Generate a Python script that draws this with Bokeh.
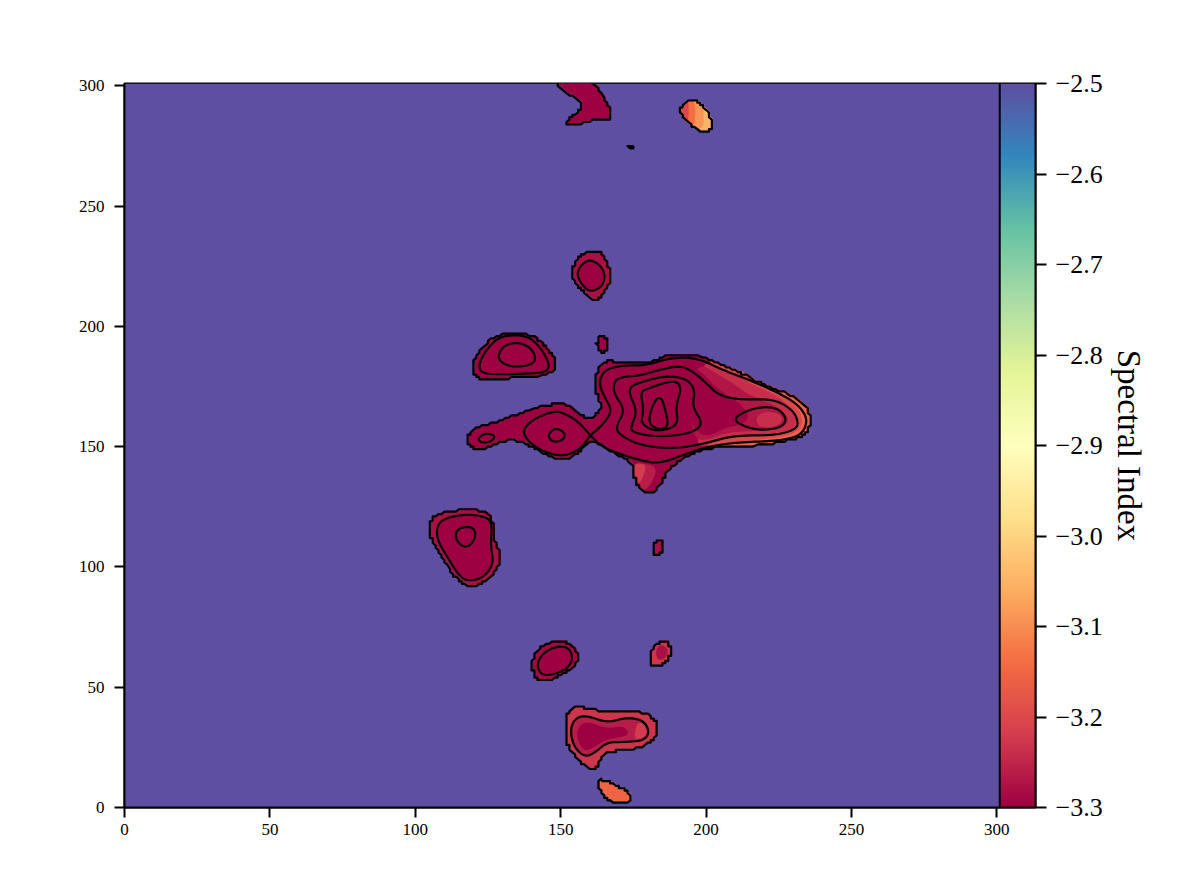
import numpy as np
from bokeh.plotting import figure
from bokeh.embed import file_html
from bokeh.resources import INLINE
from bokeh.models import ColumnDataSource, LinearAxis, Range1d, FixedTicker, Span, LinearColorMapper
from bokeh.palettes import Spectral11
from bokeh.transform import linear_cmap

V_MIN, V_MAX = -3.3, -2.5
BACKGROUND_VALUE = -2.5
X_TICKS = [0, 50, 100, 150, 200, 250, 300]
Y_TICKS = [0, 50, 100, 150, 200, 250, 300]
CB_TICKS = [-3.3, -3.2, -3.1, -3.0, -2.9, -2.8, -2.7, -2.6, -2.5]
CB_LABELS = ["−3.3", "−3.2", "−3.1", "−3.0", "−2.9", "−2.8", "−2.7", "−2.6", "−2.5"]

# ---- region outlines, in map units ----
main_x = [165.4,170.5,180.3,187.7,196.9,206.1,213.0,218.7,226.7,231.9,235.3,236.1,234.1,227.8,218.7,207.2,200.3,193.5,187.7,184.9,181.4,178.6,175.7,174.6,168.3,160.2,156.8,151.1,145.3,140.7,134.4,130.4,122.4,118.4,117.8,120.1,127.0,136.2,146.5,152.8,157.4,160.8,163.7,163.7,161.6,162.5]
main_y = [186.1,184.8,184.8,188.4,188.4,183.8,180.3,176.2,172.7,169.9,165.1,159.5,154.7,152.3,150.5,150.1,149.1,146.4,141.5,135.3,130.1,131.1,134.6,143.6,147.1,153.3,147.8,144.3,146.4,149.8,152.9,152.6,148.2,150.5,154.0,157.5,160.2,163.7,167.9,167.6,162.3,161.6,165.1,168.5,174.1,181.7]
c1_x = [160.2,160.2,160.2,164.8,167.7,165.4,163.1,164.8,170.5,179.7,187.7,196.9,206.1,215.2,224.4,231.3,234.7,234.1,231.3,223.3,211.8,202.6,194.6,184.3,177.4,168.3,163.7]
c1_y = [154.7,154.7,154.7,159.5,165.1,169.9,176.2,181.7,183.8,183.8,187.0,187.0,181.7,177.6,172.7,167.9,162.3,157.5,154.0,152.3,151.9,150.5,147.8,142.9,144.3,147.8,150.5]
diamond_x = [160.2,160.2,160.2,156.8,151.1,144.2,139.0,136.7,140.7,148.2,152.8,156.8]
diamond_y = [154.7,154.7,154.7,149.1,145.9,147.8,151.9,156.8,161.6,165.1,163.0,159.5]
c2_x = [168.3,170.5,177.4,183.1,191.2,195.8,200.3,204.4,211.8,223.3,230.1,231.9,230.1,223.3,209.5,199.2,188.9,177.4,170.5,168.8,172.3,168.3]
c2_y = [176.9,178.9,179.6,181.7,183.8,181.0,176.2,171.3,169.5,169.9,165.1,159.5,156.8,154.7,154.7,151.2,149.1,150.5,154.7,158.2,165.1,172.0]
c3_x = [172.8,177.4,186.6,193.5,196.3,195.2,199.2,194.6,183.1,174.0,174.6,176.3]
c3_y = [174.1,176.9,179.6,178.2,173.4,166.5,159.5,155.4,154.0,156.1,159.5,165.1]
c4_x = [177.4,179.7,188.9,191.7,189.5,190.6,183.1,177.4,178.6]
c4_y = [172.7,174.1,177.8,174.8,166.5,158.8,156.1,159.5,165.1]
c5_x = [183.2,184.9,186.0,187.2,183.7,180.3,180.9]
c5_y = [170.6,169.9,165.1,158.4,157.0,159.5,165.1]
oval_r_x = [209.0,214.1,219.8,225.0,227.8,226.1,219.8,214.1]
oval_r_y = [161.3,165.1,166.7,165.8,161.6,158.1,156.8,157.9]
oval_l_x = [121.3,124.1,127.6,126.4,123.0]
oval_l_y = [153.3,155.7,154.7,152.3,151.5]
oval_d_x = [145.6,148.2,151.3,151.3,148.8,146.5]
oval_d_y = [155.1,157.9,156.1,153.3,151.9,152.6]
dome_x = [119.5,123.0,128.7,138.5,144.2,148.2,148.2,129.3,122.4,119.9]
dome_y = [184.5,191.4,197.2,197.6,192.8,186.6,179.6,178.2,177.8,180.3]
dome_c_x = [121.5,124.1,129.3,138.5,143.0,146.2,145.3,137.3,123.6]
dome_c_y = [183.1,190.0,196.3,196.3,191.4,184.5,181.0,180.3,180.0]
dome_i_x = [128.4,130.4,135.0,139.6,141.7,139.6,133.3,129.3]
dome_i_y = [187.9,192.1,193.5,191.4,186.6,183.8,183.1,185.2]
speck_x = [162.5,163.7,165.7,166.0,164.2,162.5]
speck_y = [194.2,196.7,195.6,190.0,188.9,191.4]
left_x = [105.0,106.4,112.7,121.3,126.4,127.2,129.3,129.1,121.8,118.4,113.8,108.7,105.2]
left_y = [117.2,121.4,123.5,123.8,122.1,110.3,106.2,99.2,92.0,92.0,95.1,104.8,112.4]
left_c_x = [107.3,109.2,117.8,124.7,126.4,125.9,127.0,123.6,119.0,115.5,111.0,107.7]
left_c_y = [115.9,120.0,122.1,120.7,118.0,108.9,101.3,95.8,94.1,95.5,104.1,111.0]
left_i_x = [113.6,115.0,119.5,121.0,119.5,117.3,115.0]
left_i_y = [113.1,116.3,116.8,113.8,109.6,108.2,109.6]
dot108_x = [181.5,183.7,185.4,185.2,183.2,181.5]
dot108_y = [108.9,111.3,110.3,106.2,105.0,105.5]
egg_x = [139.8,142.5,147.6,153.4,156.2,155.1,148.8,145.3,141.3]
egg_y = [60.4,66.7,69.4,68.3,63.9,58.3,54.2,52.1,53.5]
egg_c_x = [141.7,143.6,148.2,152.8,154.3,152.2,147.6,143.6]
egg_c_y = [59.0,63.9,67.0,66.7,61.8,57.6,55.3,54.9]
pod_x = [180.6,183.7,186.8,188.3,186.6,182.6,180.6]
pod_y = [64.6,69.2,69.2,65.3,60.4,58.3,60.4]
bell_x = [151.6,154.0,158.5,166.0,177.4,183.2,183.7,178.6,169.4,164.2,162.0,158.5,153.4,151.6]
bell_y = [37.6,41.7,41.7,39.2,40.3,36.2,30.0,25.1,23.7,22.3,14.7,16.8,23.0,29.2]
bell_c_x = [153.6,155.6,159.1,166.0,172.8,178.6,180.6,178.6,171.7,166.0,162.0,158.5,155.1,153.6]
bell_c_y = [34.1,37.5,38.2,35.2,37.5,36.2,31.3,27.8,27.2,27.2,23.0,20.9,24.4,29.2]
foot_x = [162.8,166.0,171.7,174.2,173.4,169.4,164.8,163.1]
foot_y = [11.9,10.9,7.8,5.0,1.5,1.5,4.3,8.5]
top_x = [150.5,160.2,166.0,168.0,160.2,155.7,152.2,152.0,157.4,157.4,150.8,148.5]
top_y = [304.0,304.0,293.3,285.7,285.7,283.6,283.6,285.7,290.5,293.3,297.5,301.0]
tiny_x = [173.4,175.1,174.6,173.4]
tiny_y = [275.7,274.9,273.9,274.2]
peach_x = [190.6,192.9,196.9,201.5,202.1,199.2,193.5]
peach_y = [289.8,293.6,294.4,288.5,281.5,280.1,285.0]
upper_x = [153.9,155.7,160.8,164.8,167.7,165.4,162.0,157.9,154.5]
upper_y = [222.6,228.9,232.0,230.2,221.2,214.3,209.9,214.3,218.5]
upper_c_x = [155.4,157.4,160.2,163.7,165.4,164.2,160.2,157.4]
upper_c_y = [221.9,226.1,227.9,225.4,221.2,216.4,214.3,217.1]

# ---- brightness zones inside the regions, with their spectral index ----
lobe_a_x = [203.8,213.0,218.7,226.7,231.9,235.3,236.1,234.1,227.8,218.7,207.2,204.0,205.0,204.0]
lobe_a_y = [185.2,180.3,176.2,172.7,169.9,165.1,159.5,154.7,152.3,150.5,150.1,150.2,152.0,160.9]
lobe_b_x = [200.3,206.1,213.0,217.5,224.4,229.0,233.0,233.0,229.0,218.7,208.4,199.5,200.0,200.3]
lobe_b_y = [186.6,183.8,180.3,176.6,173.1,169.2,163.7,158.1,154.7,152.9,151.9,149.6,154.0,174.8]
lobe_c_x = [199.2,204.9,210.7,216.4,223.3,227.8,231.0,230.7,226.7,217.5,207.2,197.0,197.5,198.0]
lobe_c_y = [185.9,183.1,179.6,175.5,172.0,167.9,162.3,158.1,156.1,154.7,154.0,149.0,155.5,174.8]
lobe_d_x = [198.0,203.8,209.5,214.1,219.8,225.6,229.0,225.6,217.5,207.2,196.9,194.6,195.8]
lobe_d_y = [184.5,180.3,176.2,172.0,169.2,165.8,160.9,157.5,156.5,156.1,151.2,160.9,178.9]
lobe_e_x = [196.9,202.1,207.2,211.8,215.2,211.8,207.2,199.2,194.0,194.6]
lobe_e_y = [183.1,176.2,171.3,167.9,162.3,158.8,158.1,153.3,160.9,178.9]
lobe_f_x = [218.7,224.4,226.7,224.4,218.7,217.0]
lobe_f_y = [164.4,164.4,161.6,158.4,157.9,160.9]
tail_a_x = [174.6,175.7,178.6,182.0,183.2]
tail_a_y = [143.6,134.6,131.1,136.0,142.2]
tail_b_x = [174.9,175.7,177.4,179.1,179.1]
tail_b_y = [143.2,136.0,134.6,140.1,142.9]
bell_d_x = [155.1,156.8,160.2,166.0,171.7,174.0,166.0,161.4,158.0]
bell_d_y = [29.9,34.8,35.5,32.7,34.1,29.9,28.5,25.1,23.0]
bell_l_x = [176.3,178.6,180.0,178.0,175.1]
bell_l_y = [35.5,34.8,31.3,28.5,28.5]
pod_d_x = [182.6,184.9,187.2,186.0,183.2]
pod_d_y = [66.0,68.0,65.3,61.8,61.1]
peach_a_x = [190.6,192.9,196.9,199.2,199.2,193.5]
peach_a_y = [289.8,293.6,294.4,291.6,280.6,285.0]
peach_b_x = [190.6,192.9,196.3,196.3,193.5]
peach_b_y = [289.8,293.6,294.4,282.9,285.0]
peach_c_x = [190.6,192.9,194.0,194.0,191.8]
peach_c_y = [289.8,293.6,294.0,284.3,286.4]

# (x, y, value, is a region edge drawn on the map cell grid)
fills = [
    (main_x, main_y, -3.3, True), (lobe_a_x, lobe_a_y, -3.16, True), (lobe_b_x, lobe_b_y, -3.2, False),
    (lobe_c_x, lobe_c_y, -3.24, False), (lobe_d_x, lobe_d_y, -3.27, False), (lobe_e_x, lobe_e_y, -3.3, False),
    (lobe_f_x, lobe_f_y, -3.24, False), (tail_a_x, tail_a_y, -3.26, False), (tail_b_x, tail_b_y, -3.22, False),
    (dome_x, dome_y, -3.3, True), (speck_x, speck_y, -3.3, True), (left_x, left_y, -3.28, True),
    (left_c_x, left_c_y, -3.3, False), (dot108_x, dot108_y, -3.28, True), (egg_x, egg_y, -3.29, True),
    (egg_c_x, egg_c_y, -3.3, False), (pod_x, pod_y, -3.23, True), (pod_d_x, pod_d_y, -3.28, False),
    (bell_x, bell_y, -3.23, True), (bell_c_x, bell_c_y, -3.26, False), (bell_d_x, bell_d_y, -3.3, False),
    (bell_l_x, bell_l_y, -3.22, False), (foot_x, foot_y, -3.15, True), (top_x, top_y, -3.3, True),
    (tiny_x, tiny_y, -3.25, True), (peach_x, peach_y, -3.05, True), (peach_a_x, peach_a_y, -3.09, False),
    (peach_b_x, peach_b_y, -3.14, False), (peach_c_x, peach_c_y, -3.2, False),
    (upper_x, upper_y, -3.28, True), (upper_c_x, upper_c_y, -3.3, False),
]
edges = [(main_x, main_y), (dome_x, dome_y), (speck_x, speck_y), (left_x, left_y), (dot108_x, dot108_y),
         (egg_x, egg_y), (pod_x, pod_y), (bell_x, bell_y), (foot_x, foot_y), (top_x, top_y),
         (tiny_x, tiny_y), (peach_x, peach_y), (upper_x, upper_y)]
contours = [(c1_x, c1_y), (diamond_x, diamond_y), (c2_x, c2_y), (c3_x, c3_y), (c4_x, c4_y), (c5_x, c5_y),
            (oval_r_x, oval_r_y), (oval_l_x, oval_l_y), (oval_d_x, oval_d_y), (dome_c_x, dome_c_y),
            (dome_i_x, dome_i_y), (left_c_x, left_c_y), (left_i_x, left_i_y), (egg_c_x, egg_c_y),
            (bell_c_x, bell_c_y), (upper_c_x, upper_c_y)]


def curve(x, y, rounds=3):
    """Draw a closed outline as a rounded curve (corner cutting)."""
    pts = np.column_stack([x, y])
    for _ in range(rounds):
        nxt = np.roll(pts, -1, axis=0)
        pts = np.column_stack([0.75 * pts + 0.25 * nxt, 0.25 * pts + 0.75 * nxt]).reshape(-1, 2)
    return pts


def cells(x, y):
    """Draw a region edge as it appears on the 1-unit map cell grid, softly."""
    pts = np.round(curve(x, y))
    keep = np.any(pts != np.roll(pts, 1, axis=0), axis=1)
    return pts[keep]


def closed(pts):
    return list(pts[:, 0]) + [pts[0, 0]], list(pts[:, 1]) + [pts[0, 1]]


# Spectral colour map, low values red
anchors = [tuple(int(c[i:i + 2], 16) for i in (1, 3, 5)) for c in Spectral11[::-1]]
pos = np.linspace(0, 1, len(anchors))
t = np.linspace(0, 1, 256)
chan = [np.interp(t, pos, [a[k] for a in anchors]) for k in range(3)]
palette = ["#%02x%02x%02x" % (int(r), int(g), int(b)) for r, g, b in zip(*chan)]
mapper = LinearColorMapper(palette=palette, low=V_MIN, high=V_MAX)

MAP_END = 301
CB_END = 313.3
FONT = "Liberation Serif"
CELL_SHIFT = 0.4

p = figure(width=1180, height=866, output_backend="svg", toolbar_location=None,
           x_range=Range1d(0, CB_END), y_range=Range1d(0, MAP_END),
           min_border_left=124, min_border_right=145, min_border_top=83, min_border_bottom=59,
           background_fill_color="white")
p.grid.visible = False
p.outline_line_color = "black"
p.outline_line_width = 2
p.extra_y_ranges = {"cb": Range1d(V_MIN, V_MAX)}

p.image(image=[np.array([[BACKGROUND_VALUE]])], x=0, y=0, dw=MAP_END, dh=MAP_END, color_mapper=mapper)
p.image(image=[np.linspace(V_MIN, V_MAX, 256).reshape(-1, 1)], x=MAP_END, y=V_MIN, dw=CB_END - MAP_END,
        dh=V_MAX - V_MIN, color_mapper=mapper, y_range_name="cb")
p.add_layout(Span(location=MAP_END, dimension="height", line_color="black", line_width=2))

xs, ys, vals = [], [], []
for fx, fy, v, on_grid in fills:
    pts = cells(fx, fy) + CELL_SHIFT if on_grid else curve(fx, fy)
    a, b = closed(pts)
    xs.append(a); ys.append(b); vals.append(v)
p.patches("xs", "ys", source=ColumnDataSource(dict(xs=xs, ys=ys, val=vals)), line_color=None,
          fill_color=linear_cmap("val", palette, V_MIN, V_MAX))

lx, ly = [], []
for ex, ey in edges:
    a, b = closed(cells(ex, ey))
    lx.append(a); ly.append(b)
for cx, cy in contours:
    a, b = closed(curve(cx, cy))
    lx.append(a); ly.append(b)
p.multi_line(lx, ly, line_color="black", line_width=2.2, line_join="round")

for ax, ticks in ((p.xaxis[0], X_TICKS), (p.yaxis[0], Y_TICKS)):
    ax.ticker = FixedTicker(ticks=ticks)
    ax.major_tick_in = 0
    ax.major_tick_out = 10
    ax.minor_tick_line_color = None
    ax.major_tick_line_width = 2
    ax.axis_line_width = 2
    ax.major_tick_line_color = "black"
    ax.axis_line_color = "black"
    ax.major_label_text_font = FONT
    ax.major_label_text_font_size = "17px"
    ax.major_label_text_color = "black"
p.xaxis[0].major_label_standoff = 6
p.yaxis[0].major_label_standoff = 10
p.yaxis[0].major_label_orientation = "horizontal"

cb_axis = LinearAxis(y_range_name="cb", ticker=FixedTicker(ticks=CB_TICKS),
                     major_label_overrides=dict(zip(CB_TICKS, CB_LABELS)),
                     axis_label="Spectral Index", axis_label_text_font=FONT,
                     axis_label_text_font_style="normal", axis_label_text_font_size="33px",
                     axis_label_orientation="vertical",
                     axis_label_text_color="black", axis_label_standoff=5,
                     major_label_text_font=FONT, major_label_text_font_size="26px",
                     major_label_text_color="black", major_label_standoff=9,
                     major_tick_in=0, major_tick_out=11, major_tick_line_width=2,
                     major_tick_line_color="black", minor_tick_line_color=None,
                     axis_line_color="black", axis_line_width=2)
p.add_layout(cb_axis, "right")

open("out.html", "w").write(file_html(p, INLINE))
